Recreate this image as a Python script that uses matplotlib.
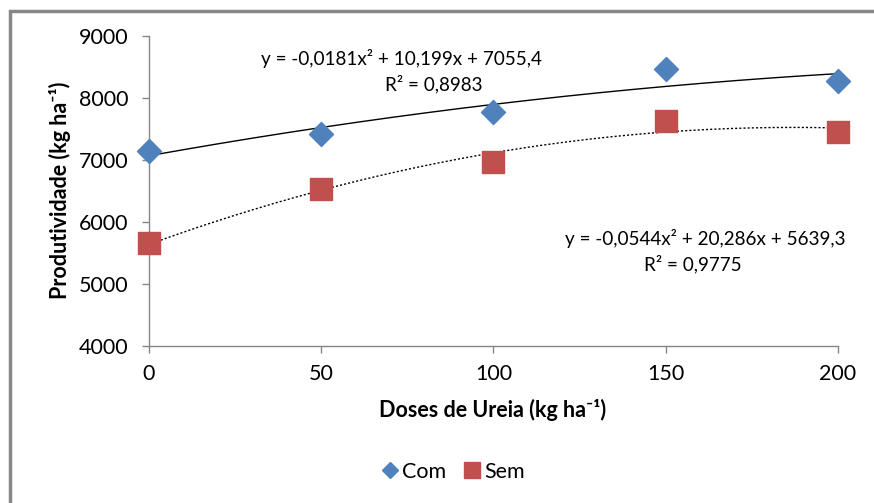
import numpy as np
import matplotlib
matplotlib.use("Agg")
import matplotlib.pyplot as plt
from matplotlib.patches import Rectangle
from matplotlib.lines import Line2D

plt.rcParams['font.family'] = ['Lato', 'DejaVu Sans']

# dados
doses = [0, 50, 100, 150, 200]
com = [7145, 7414, 7769, 8468, 8274]
sem = [5656, 6527, 6973, 7629, 7452]

eq_com = "y = -0,0181x² + 10,199x + 7055,4"
r2_com = "R² = 0,8983"
eq_sem = "y = -0,0544x² + 20,286x + 5639,3"
r2_sem = "R² = 0,9775"

azul = '#4F81BD'
vermelho = '#C0504D'
cinza = '#868686'

fig = plt.figure(figsize=(8.74, 5.03), dpi=100)
ax = fig.add_axes([149/874, 1 - 346/503, (838 - 149)/874, (346 - 36)/503])

# linhas de tendência polinomial (ordem 2)
xs = np.linspace(0, 200, 200)
p_com = np.polyfit(doses, com, 2)
p_sem = np.polyfit(doses, sem, 2)
ax.plot(xs, np.polyval(p_com, xs), color='black', lw=1.0, zorder=3)
ax.plot(xs, np.polyval(p_sem, xs), color='black', lw=1.0, ls=(0, (1.5, 1.5)), zorder=3)

ax.scatter(doses, com, marker='D', s=150, color=azul, zorder=4, clip_on=False)
ax.scatter(doses, sem, marker='s', s=230, color=vermelho, zorder=4, clip_on=False)

ax.set_xlim(0, 200)
ax.set_ylim(4000, 9000)
ax.set_xticks([0, 50, 100, 150, 200])
ax.set_yticks([4000, 5000, 6000, 7000, 8000, 9000])
for s in ['top', 'right']:
    ax.spines[s].set_visible(False)
for s in ['left', 'bottom']:
    ax.spines[s].set_color(cinza)
    ax.spines[s].set_linewidth(1.0)
ax.tick_params(colors=cinza, length=5, width=1.0, labelcolor='black', labelsize=15.5)
ax.tick_params(axis='x', pad=8)
ax.tick_params(axis='y', pad=10)

fig.text(493/874, 1 - 410/503, "Doses de Ureia (kg ha⁻¹)", ha='center', va='center',
         fontsize=15.5, fontweight='bold')
fig.text(60/874, 1 - 190/503, "Produtividade (kg ha⁻¹)", rotation=90, ha='center', va='center',
         fontsize=15.5, fontweight='bold')

fig.text(401/874, 1 - 58/503, eq_com, ha='center', va='center', fontsize=13.6)
fig.text(434/874, 1 - 84/503, r2_com, ha='center', va='center', fontsize=13.6)
fig.text(705/874, 1 - 239/503, eq_sem, ha='center', va='center', fontsize=13.6)
fig.text(693/874, 1 - 264/503, r2_sem, ha='center', va='center', fontsize=13.6)

handles = [Line2D([], [], ls='', marker='D', ms=8, color=azul),
           Line2D([], [], ls='', marker='s', ms=12, color=vermelho)]
fig.legend(handles, ['Com', 'Sem'], loc='center', bbox_to_anchor=(452/874, 1 - 472/503),
           ncol=2, frameon=False, fontsize=15.5, handletextpad=0.05, columnspacing=0.7,
           handlelength=1.0)

# moldura do gráfico
fig.patches.append(Rectangle((10/874, -0.1), 1.2, 1 - 11/503 + 0.1, transform=fig.transFigure,
                             fill=False, edgecolor='#888888', lw=2.5))

fig.savefig('out.png', dpi=100)
